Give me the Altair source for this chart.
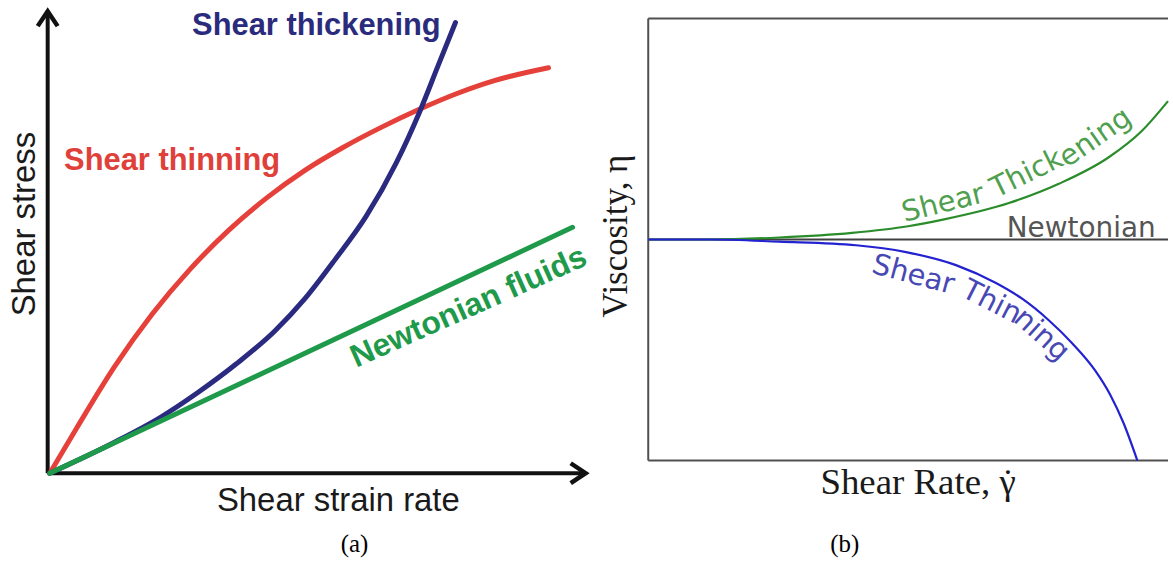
import altair as alt
import pandas as pd

# ---------------- Panel (a): shear stress vs shear strain rate ----------------
thin_rate = [0, 0.51, 1.23, 1.96, 2.69, 3.42, 4.15, 4.88, 5.60, 6.34, 7.07, 7.79, 8.52, 9.54]
thin_stress = [0, 0.99, 2.34, 3.52, 4.52, 5.37, 6.09, 6.70, 7.20, 7.65, 8.05, 8.40, 8.69, 8.97]
thick_rate = [0, 1.23, 2.11, 2.84, 3.57, 4.30, 4.88, 5.46, 6.05, 6.63, 7.07, 7.43, 7.76]
thick_stress = [0, 0.68, 1.23, 1.79, 2.42, 3.14, 3.86, 4.73, 5.68, 6.87, 7.98, 9.02, 9.97]
newt_rate = [0, 10]
newt_stress = [0, 5.44]

# axis extents (arrow tips) of panel (a)
a_axis_origin = [-0.04, 0.0]
a_axis_x_end = 10.25
a_axis_y_end = 10.22

# annotation labels of panel (a)
a_label_text = ["Shear thickening", "Shear thinning"]
a_label_x = [5.10, 2.34]
a_label_y = [9.69, 6.71]

# ---------------- Panel (b): viscosity vs shear rate ----------------
b_thick_rate = [0, 1.2, 2.52, 3.92, 5.00, 5.67, 6.94, 7.90, 8.86, 9.50, 10.0]
b_thick_visc = [1.0, 1.0, 1.009, 1.030, 1.060, 1.090, 1.165, 1.252, 1.372, 1.492, 1.626]
b_thin_rate = [0, 1.2, 2.52, 4.00, 4.96, 5.92, 6.69, 7.20, 7.70, 8.16, 8.60, 8.89, 9.14, 9.41]
b_thin_visc = [1.0, 1.0, 0.99, 0.974, 0.943, 0.884, 0.803, 0.731, 0.636, 0.530, 0.407, 0.297,
               0.172, 0.0]
b_newt_rate = [0, 10]
b_newt_visc = [1.0, 1.0]

# curved labels split into pieces that follow the curves
b_thick_lab = ["Shear", "Thick", "ening"]
b_thick_lab_x = [5.67, 7.28, 8.60]
b_thick_lab_y = [1.164, 1.299, 1.461]
b_thick_lab_ang = [346, 334, 325]
b_thin_lab = ["Shear", "Thin", "ning"]
b_thin_lab_x = [5.10, 6.61, 7.57]
b_thin_lab_y = [0.841, 0.718, 0.569]
b_thin_lab_ang = [15, 27, 42]

W_A, W_B, H = 600, 573, 565

xa = alt.Scale(domain=[-0.952, 10.476], nice=False, zero=False)
ya = alt.Scale(domain=[-2.004, 10.441], nice=False, zero=False)
xb = alt.Scale(domain=[-0.977, 10.0], nice=False, zero=False)
yb = alt.Scale(domain=[-0.467, 2.078], nice=False, zero=False)


def enc(xs, ys):
    return dict(x=alt.X("x:Q", scale=xs, axis=None), y=alt.Y("y:Q", scale=ys, axis=None))


def curve(rx, ry, xs, ys, color, width, cap="round"):
    df = pd.DataFrame({"x": rx, "y": ry})
    return alt.Chart(df).mark_line(color=color, strokeWidth=width, interpolate="monotone",
                                   strokeCap=cap).encode(**enc(xs, ys))


def label(df, xs, ys, **kw):
    return alt.Chart(df).mark_text(**kw).encode(**enc(xs, ys), text="t:N")


# ---- panel (a) layers
ax_df = pd.DataFrame({
    "x": [a_axis_origin[0], a_axis_origin[0]],
    "y": [a_axis_origin[1], a_axis_origin[1]],
    "x2": [a_axis_x_end, a_axis_origin[0]],
    "y2": [a_axis_origin[1], a_axis_y_end],
})
axes_a = alt.Chart(ax_df).mark_rule(color="#111111", strokeWidth=4).encode(
    **enc(xa, ya), x2="x2:Q", y2="y2:Q")
chevron = "M -1 1.5 L 0 0 L 1 1.5"
tip_up = alt.Chart(pd.DataFrame({"x": [a_axis_origin[0]], "y": [a_axis_y_end]})).mark_point(
    shape=chevron, filled=False, size=400, strokeWidth=4.5, color="#111111", opacity=1,
    strokeJoin="miter").encode(**enc(xa, ya))
tip_right = alt.Chart(pd.DataFrame({"x": [a_axis_x_end], "y": [a_axis_origin[1]]})).mark_point(
    shape=chevron, filled=False, size=400, strokeWidth=4.5, color="#111111", opacity=1,
    strokeJoin="miter", angle=90).encode(**enc(xa, ya))

red = curve(thin_rate, thin_stress, xa, ya, "#e5413a", 5)
navy = curve(thick_rate, thick_stress, xa, ya, "#2a2a80", 5)
green = curve(newt_rate, newt_stress, xa, ya, "#1e9a4a", 5)

lab_thick = label(pd.DataFrame({"x": [a_label_x[0]], "y": [a_label_y[0]], "t": [a_label_text[0]]}),
                  xa, ya, font="Liberation Sans", fontWeight="bold", fontSize=31,
                  color="#2b2b7e", align="center", baseline="alphabetic")
lab_thin = label(pd.DataFrame({"x": [a_label_x[1]], "y": [a_label_y[1]], "t": [a_label_text[1]]}),
                 xa, ya, font="Liberation Sans", fontWeight="bold", fontSize=31,
                 color="#e0403a", align="center", baseline="alphabetic")
lab_newt = label(pd.DataFrame({"x": [8.01], "y": [3.68], "t": ["Newtonian fluids"]}),
                 xa, ya, font="Liberation Sans", fontWeight="bold", fontSize=32,
                 color="#1f9a4b", align="center", baseline="middle", angle=336)
lab_ya = label(pd.DataFrame({"x": [-0.286], "y": [5.51], "t": ["Shear stress"]}),
               xa, ya, font="Liberation Sans", fontSize=33, color="#1a1a1a",
               align="center", baseline="alphabetic", angle=270)
lab_xa = label(pd.DataFrame({"x": [5.52], "y": [-0.83], "t": ["Shear strain rate"]}),
               xa, ya, font="Liberation Sans", fontSize=33, color="#1a1a1a",
               align="center", baseline="alphabetic")
cap_a = label(pd.DataFrame({"x": [5.83], "y": [-1.74], "t": ["(a)"]}),
              xa, ya, font="Liberation Serif", fontSize=25, color="#000000",
              align="center", baseline="alphabetic")

panel_a = alt.layer(axes_a, tip_up, tip_right, red, navy, green,
                    lab_thick, lab_thin, lab_newt, lab_ya, lab_xa, cap_a).properties(
    width=W_A, height=H)

# ---- panel (b) layers
box_df = pd.DataFrame({"x": [0, 0, 0], "y": [2.0, 0.0, 0.0],
                       "x2": [10.0, 10.0, 0.0], "y2": [2.0, 0.0, 2.0]})
box = alt.Chart(box_df).mark_rule(color="#505050", strokeWidth=2).encode(
    **enc(xb, yb), x2="x2:Q", y2="y2:Q")
b_newt = curve(b_newt_rate, b_newt_visc, xb, yb, "#404040", 2, cap="butt")
b_green = curve(b_thick_rate, b_thick_visc, xb, yb, "#2a8c2a", 2.2, cap="butt")
b_blue = curve(b_thin_rate, b_thin_visc, xb, yb, "#2222d0", 2.2, cap="butt")

thick_df = pd.DataFrame({"x": b_thick_lab_x, "y": b_thick_lab_y, "t": b_thick_lab,
                         "a": b_thick_lab_ang})
thin_df = pd.DataFrame({"x": b_thin_lab_x, "y": b_thin_lab_y, "t": b_thin_lab,
                        "a": b_thin_lab_ang})
lab_b_thick = alt.Chart(thick_df).mark_text(
    font="DejaVu Sans", fontSize=29, color="#4f9f4f", align="center", baseline="middle"
).encode(**enc(xb, yb), text="t:N", angle=alt.Angle("a:Q", scale=None))
lab_b_thin = alt.Chart(thin_df).mark_text(
    font="DejaVu Sans", fontSize=29, color="#4848b4", align="center", baseline="middle"
).encode(**enc(xb, yb), text="t:N", angle=alt.Angle("a:Q", scale=None))
lab_b_newt = label(pd.DataFrame({"x": [8.33], "y": [1.012], "t": ["Newtonian"]}),
                   xb, yb, font="DejaVu Sans", fontSize=28, color="#555555",
                   align="center", baseline="alphabetic")
lab_yb = label(pd.DataFrame({"x": [-0.402], "y": [1.015], "t": ["Viscosity, η"]}),
               xb, yb, font="Liberation Serif", fontSize=35, color="#1a1a1a",
               align="center", baseline="alphabetic", angle=270)
# x-axis title: right end of the text sits under the gamma, its dot placed above it
lab_xb = label(pd.DataFrame({"x": [7.07], "y": [-0.152], "t": ["Shear Rate, \u03b3"]}),
               xb, yb, font="Liberation Serif", fontSize=37, color="#1a1a1a",
               align="right", baseline="alphabetic")
dot_xb = label(pd.DataFrame({"x": [6.92], "y": [-0.152], "t": ["\u02d9"]}),
               xb, yb, font="Liberation Serif", fontSize=37, color="#1a1a1a",
               align="center", baseline="alphabetic")
cap_b = label(pd.DataFrame({"x": [3.78], "y": [-0.413], "t": ["(b)"]}),
              xb, yb, font="Liberation Serif", fontSize=25, color="#000000",
              align="center", baseline="alphabetic")

panel_b = alt.layer(box, b_newt, b_green, b_blue, lab_b_thick, lab_b_thin, lab_b_newt,
                    lab_yb, lab_xb, dot_xb, cap_b).properties(width=W_B, height=H)

chart = alt.hconcat(panel_a, panel_b, spacing=0).properties(
    padding=0, background="white"
).configure_view(stroke=None, strokeWidth=0)

chart.save("out.html", embed_options={"renderer": "svg", "actions": False})
